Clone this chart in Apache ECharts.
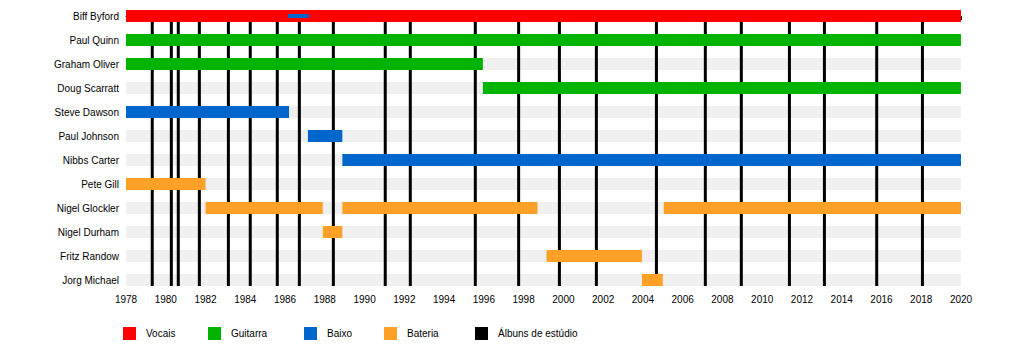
<!DOCTYPE html>
<html>
<head>
<meta charset="utf-8">
<script src="https://cdn.jsdelivr.net/npm/echarts@6/dist/echarts.min.js"></script>
<style>
html,body{margin:0;padding:0;background:#fff;}
#chart{width:1010px;height:360px;}
</style>
</head>
<body>
<div id="chart"></div>
<script>
// ---- data ----
const members = ['Biff Byford','Paul Quinn','Graham Oliver','Doug Scarratt','Steve Dawson','Paul Johnson','Nibbs Carter','Pete Gill','Nigel Glockler','Nigel Durham','Fritz Randow','Jorg Michael'];
// [memberIndex, start, end]
const vocals = [[0, 1978, 2020]];
const guitar = [[1, 1978, 2020], [2, 1978, 1995.95], [3, 1995.95, 2020]];
const bass = [[4, 1978, 1986.2], [5, 1987.15, 1988.88], [6, 1988.88, 2020]];
const bassSecondary = [[0, 1986.15, 1987.2]];
const drums = [[7, 1978, 1982], [8, 1982, 1987.9], [8, 1988.88, 1998.7], [8, 2005.05, 2020], [9, 1987.9, 1988.88], [10, 1999.15, 2003.95], [11, 2003.95, 2005]];
const albums = [1979.32, 1980.28, 1980.63, 1981.69, 1983.15, 1984.25, 1985.61, 1986.72, 1988.43, 1991.04, 1992.30, 1995.57, 1997.75, 1999.80, 2001.66, 2004.68, 2007.14, 2008.95, 2011.37, 2013.13, 2015.76, 2018.06];
const yearMin = 1978, yearMax = 2020;
const legendNames = ['Vocais', 'Guitarra', 'Baixo', 'Bateria', 'Álbuns de estúdio'];

// ---- chart ----
const colors = {Vocais: '#ff0000', Guitarra: '#00b300', Baixo: '#0066cc', Bateria: '#ffa126'};
const chart = echarts.init(document.getElementById('chart'), null, {renderer: 'svg'});

function barRenderer(h) {
  return function (params, api) {
    const row = api.value(0);
    const p1 = api.coord([api.value(1), row]);
    const p2 = api.coord([api.value(2), row]);
    return {
      type: 'rect',
      shape: {x: p1[0], y: p1[1] - h / 2, width: p2[0] - p1[0], height: h},
      style: {fill: api.visual('color')}
    };
  };
}
function barSeries(name, data, h, z, color) {
  return {
    type: 'custom', name: name, data: data, z: z,
    itemStyle: {color: color},
    encode: {x: [1, 2], y: 0},
    renderItem: barRenderer(h),
    silent: true
  };
}

const bands = members.map((m, i) => [i, yearMin, yearMax]);

const legendLefts = [123, 208, 304, 384, 475];
const legends = legendNames.map((n, i) => ({
  data: [n], left: legendLefts[i], top: 327, padding: 0,
  icon: 'rect', itemWidth: 13, itemHeight: 13, selectedMode: false,
  textStyle: {fontSize: 10, color: '#000', padding: [0, 0, 0, 5], fontFamily: 'Liberation Sans, Arial, sans-serif'}
}));

chart.setOption({
  animation: false,
  textStyle: {fontFamily: 'Liberation Sans, Arial, sans-serif'},
  grid: {left: 126, right: 49, top: 10, bottom: 74, containLabel: false},
  legend: legends,
  xAxis: {
    type: 'value', min: yearMin, max: yearMax, interval: 2,
    axisLine: {show: true, lineStyle: {color: '#000', width: 1}},
    axisTick: {show: true, length: 4, lineStyle: {color: '#000'}},
    minorTick: {show: true, splitNumber: 2, length: 3, lineStyle: {color: '#000'}},
    splitLine: {show: false},
    axisLabel: {fontSize: 10, color: '#000', margin: 8, formatter: v => String(v)}
  },
  yAxis: {
    type: 'value', inverse: true, min: -0.25, max: members.length - 0.75,
    axisLine: {show: false}, axisTick: {show: false}, splitLine: {show: false},
    axisLabel: {
      fontSize: 10, color: '#000', margin: 7,
      customValues: members.map((m, i) => i),
      formatter: v => members[Math.round(v)] || ''
    }
  },
  series: [
    barSeries('bands', bands, 12, 1, '#f0f0f0'),
    {
      type: 'custom', name: 'Álbuns de estúdio', z: 2, silent: true,
      itemStyle: {color: '#000'},
      data: albums.map(a => [a]),
      encode: {x: 0},
      renderItem: function (params, api) {
        const cs = params.coordSys;
        const x = api.coord([api.value(0), 0])[0];
        return {
          type: 'line',
          shape: {x1: x, y1: cs.y, x2: x, y2: cs.y + cs.height},
          style: {stroke: '#000', lineWidth: 3}
        };
      }
    },
    barSeries('Vocais', vocals, 12, 3, colors.Vocais),
    barSeries('Guitarra', guitar, 12, 3, colors.Guitarra),
    barSeries('Baixo', bass, 12, 3, colors.Baixo),
    barSeries('Baixo', bassSecondary, 4, 4, colors.Baixo),
    barSeries('Bateria', drums, 12, 3, colors.Bateria)
  ]
});
</script>
</body>
</html>
